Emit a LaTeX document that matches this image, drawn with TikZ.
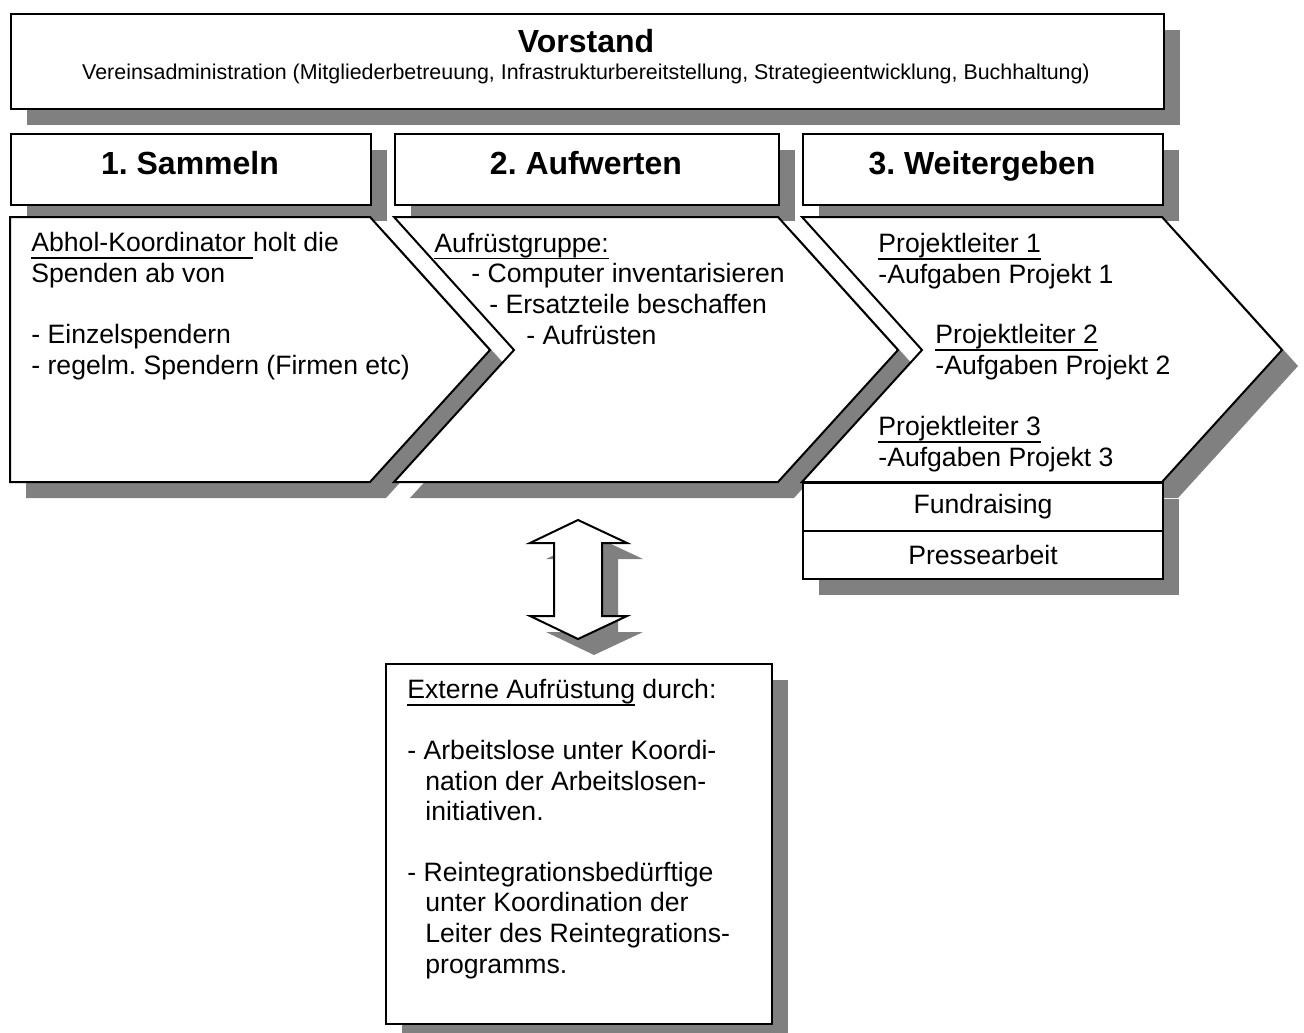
\documentclass[tikz,border=0pt]{standalone}
\usepackage{fontspec}
\setmainfont{Liberation Sans}
\frenchspacing
\usetikzlibrary{shadows,positioning}
\definecolor{schattengrau}{HTML}{808080}
\newcommand\unterstrichen[1]{\setbox0\hbox{#1}\leavevmode\rlap{\rule[-3.6pt]{\wd0}{0.8pt}}\box0\relax}
\tikzset{
    panel/.style={draw, fill=white, line width=1pt, drop shadow={shadow xshift=8pt, shadow yshift=-8pt, opacity=1, fill=schattengrau}},
    kasten/.style={panel, rectangle, anchor=north west, inner sep=0pt},
    titel/.style={font=\fontsize{16}{19}\selectfont\bfseries, inner sep=0pt, anchor=base},
    untertitel/.style={font=\fontsize{10.7}{12.8}\selectfont, inner sep=0pt, anchor=base},
    % anchor: Grundlinie der letzten Zeile
    fliesstext/.style={font=\fontsize{13.3}{15.3}\selectfont, align=left, inner sep=0pt, anchor=base west},
    zentriert/.style={font=\fontsize{13.3}{15.3}\selectfont}
}
\begin{document}
\begin{tikzpicture}[x=0.5pt, y=-0.5pt]
    \useasboundingbox (0,0) rectangle (1304,1032);

    % Vorstand
    \node [kasten, minimum width=576.5pt, minimum height=47.5pt] (vorstand) at (10,13) {};
    \node [titel] (vorstandtitel) at (586,53) {Vorstand};
    \node [untertitel] (vorstandtext) at (586,80) {Vereinsadministration (Mitgliederbetreuung, Infrastrukturbereitstellung, Strategieentwicklung, Buchhaltung)};

    % Kopfzeilen
    \node [kasten, minimum width=180pt, minimum height=35.5pt] (kopfsammeln) at (10,133) {};
    \node [kasten, minimum width=192pt, minimum height=35.5pt] (kopfaufwerten) at (394,133) {};
    \node [kasten, minimum width=180pt, minimum height=35.5pt] (kopfweitergeben) at (802,133) {};
    \node [titel] (sammeln) at (190,175) {1. Sammeln};
    \node [titel] (aufwerten) at (586,175) {2. Aufwerten};
    \node [titel] (weitergeben) at (982,175) {3. Weitergeben};

    % Pfeile
    \draw [panel] (10,217) -- (370,217) -- (490,350) -- (370,482) -- (10,482) -- cycle;
    \draw [panel] (394,217) -- (778,217) -- (898,350) -- (778,482) -- (394,482) -- (514,350) -- cycle;
    \draw [panel] (802,217) -- (1162,217) -- (1282,350) -- (1162,482) -- (802,482) -- (922,350) -- cycle;

    \node [fliesstext] (sammeltext) at (31,374) {\unterstrichen{Abhol-Koordinator }holt die\\Spenden ab von\\[15.3pt]- Einzelspendern\\- regelm. Spendern (Firmen etc)};
    \node [fliesstext] (aufwerttext) at (434,344) {\unterstrichen{Aufrüstgruppe:}\\\hspace*{18.5pt}- Computer inventarisieren\\\hspace*{27.5pt}- Ersatzteile beschaffen\\\hspace*{46pt}- Aufrüsten};
    \node [fliesstext] (leiter1) at (878,283) {\unterstrichen{Projektleiter 1}\\-Aufgaben Projekt 1};
    \node [fliesstext] (leiter2) at (935,374) {\unterstrichen{Projektleiter 2}\\-Aufgaben Projekt 2};
    \node [fliesstext] (leiter3) at (878,466) {\unterstrichen{Projektleiter 3}\\-Aufgaben Projekt 3};

    \node [kasten, zentriert, minimum width=180pt, minimum height=24pt] (fundraising) at (802,482) {Fundraising};
    \node [kasten, zentriert, minimum width=180pt, minimum height=24pt] (presse) at (802,530) {Pressearbeit};

    % Doppelpfeil
    \draw [panel] (578,520) -- (627,543) -- (602,543) -- (602,616) -- (627,616) -- (578,639)
        -- (530,616) -- (554,616) -- (554,543) -- (530,543) -- cycle;

    % externe Aufruestung
    \node [kasten, minimum width=193pt, minimum height=180pt] (extern) at (385,663) {};
    \node [fliesstext] (externtext) at (407,973) {\unterstrichen{Externe Aufrüstung} durch:\\[15pt]- Arbeitslose unter Koordi-\\\hspace*{9pt}nation der Arbeitslosen-\\\hspace*{9pt}initiativen.\\[15pt]- Reintegrationsbedürftige\\\hspace*{9pt}unter Koordination der\\\hspace*{9pt}Leiter des Reintegrations-\\\hspace*{9pt}programms.};
\end{tikzpicture}
\end{document}
